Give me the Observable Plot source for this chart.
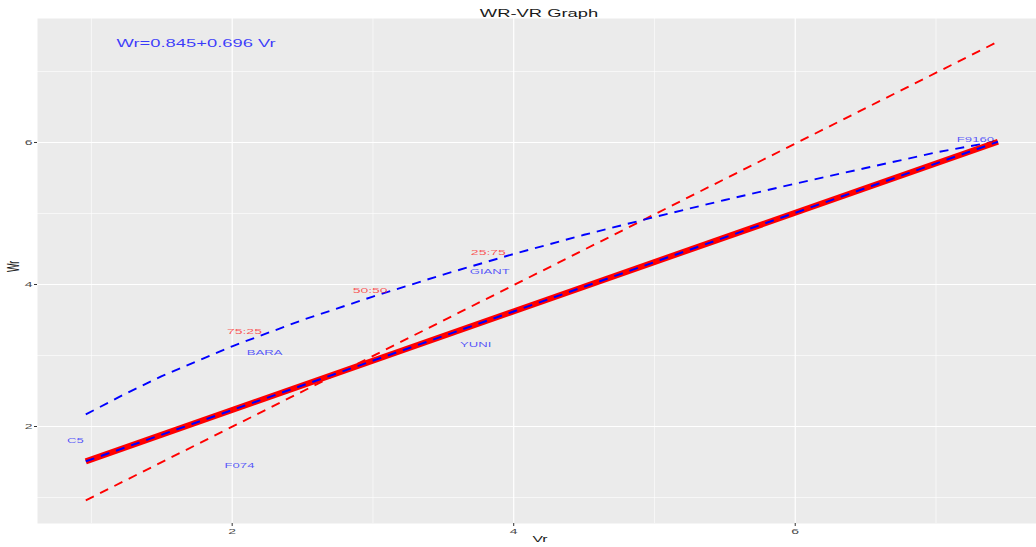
<!DOCTYPE html>
<html>
<head>
<meta charset="utf-8">
<script src="https://cdn.jsdelivr.net/npm/d3@7"></script>
<script src="https://cdn.jsdelivr.net/npm/@observablehq/plot@0.6"></script>
<style>
  html, body { margin: 0; padding: 0; background: #ffffff; }
  #chart svg { display: block; }
</style>
</head>
<body>
<div id="chart"></div>
<script>
// ---- data ----
const xTicks = [2, 4, 6];
const xMinor = [1, 3, 5, 7];
const yTicks = [2, 4, 6];
const yMinor = [1, 3, 5, 7];

// regression line Wr = a + b Vr (end points)
const regVr = [0.96, 7.44];
const regWr = [1.51, 6.01];

// unit slope line
const unitVr = [0.96, 7.44];
const unitWr = [0.96, 7.42];

// limiting parabola
const parVr = [0.96, 1.25, 1.5, 2.0, 2.5, 3.0, 3.5, 4.0, 4.5, 5.0, 5.5, 6.0, 6.5, 7.0, 7.44];
const parWr = [2.17, 2.47, 2.71, 3.13, 3.50, 3.83, 4.14, 4.43, 4.70, 4.95, 5.19, 5.42, 5.64, 5.86, 6.02];

// parent labels
const parentNames = ["C5", "F074", "BARA", "YUNI", "GIANT", "F9160"];
const parentVr = [0.887, 2.052, 2.23, 3.73, 3.83, 7.28];
const parentWr = [1.80, 1.45, 3.04, 3.15, 4.18, 6.04];

// ratio labels
const ratioNames = ["75:25", "50:50", "25:75"];
const ratioVr = [2.087, 2.98, 3.82];
const ratioWr = [3.34, 3.92, 4.45];

const titleText = "WR-VR Graph";
const equationText = "Wr=0.845+0.696 Vr";
const equationVr = [1.178];
const equationWr = [7.39];

const xDomain = [0.617, 7.714];
const yDomain = [0.634, 7.746];

// ---- build tables ----
const reg = regVr.map((v, i) => ({vr: v, wr: regWr[i]}));
const unit = unitVr.map((v, i) => ({vr: v, wr: unitWr[i]}));
const par = parVr.map((v, i) => ({vr: v, wr: parWr[i]}));
const parents = parentNames.map((n, i) => ({name: n, vr: parentVr[i], wr: parentWr[i]}));
const ratios = ratioNames.map((n, i) => ({name: n, vr: ratioVr[i], wr: ratioWr[i]}));
const eq = [{name: equationText, vr: equationVr[0], wr: equationWr[0]}];

const FONT = "'Liberation Sans', Arial, Helvetica, sans-serif";
const S = 1.75; // horizontal glyph stretch seen in the reference
const fmt = d3.format("d");

const chart = Plot.plot({
  width: 1036,
  height: 547,
  marginLeft: 37,
  marginRight: 0,
  marginTop: 18,
  marginBottom: 24,
  style: {fontFamily: FONT, background: "#ffffff", overflow: "visible"},
  x: {domain: xDomain, label: null},
  y: {domain: yDomain, label: null},
  marks: [
    Plot.frame({fill: "#EBEBEB", stroke: null}),
    Plot.ruleX(xMinor, {stroke: "white", strokeWidth: 0.6}),
    Plot.ruleY(yMinor, {stroke: "white", strokeWidth: 0.6}),
    Plot.ruleX(xTicks, {stroke: "white", strokeWidth: 1.2}),
    Plot.ruleY(yTicks, {stroke: "white", strokeWidth: 1.2}),
    Plot.axisX(xTicks, {tickSize: 3, tickPadding: 2, fontSize: 8, stroke: "#333333", color: "#4d4d4d", label: null, tickFormat: fmt}),
    Plot.axisY(yTicks, {tickSize: 3, tickPadding: 2, fontSize: 8, stroke: "#333333", color: "#4d4d4d", label: null, tickFormat: fmt}),
    Plot.line(unit, {x: "vr", y: "wr", stroke: "red", strokeWidth: 1.9, strokeDasharray: "9,7", strokeLinecap: "butt"}),
    Plot.line(par, {x: "vr", y: "wr", stroke: "blue", strokeWidth: 1.9, strokeDasharray: "9,7", strokeLinecap: "butt", curve: "linear"}),
    Plot.line(reg, {x: "vr", y: "wr", stroke: "red", strokeWidth: 6, strokeLinecap: "butt"}),
    Plot.line(reg, {x: "vr", y: "wr", stroke: "blue", strokeWidth: 2, strokeDasharray: "9,7", strokeLinecap: "butt"}),
    Plot.text(parents, {x: "vr", y: "wr", text: "name", fill: "blue", fillOpacity: 0.65, fontSize: 7.5}),
    Plot.text(ratios, {x: "vr", y: "wr", text: "name", fill: "red", fillOpacity: 0.65, fontSize: 8}),
    Plot.text(eq, {x: "vr", y: "wr", text: "name", fill: "blue", fillOpacity: 0.75, fontSize: 10.5, textAnchor: "start"}),
    Plot.text([titleText], {frameAnchor: "top", dy: -9, dx: 2, fill: "#1a1a1a", fontSize: 10.5}),
    Plot.text(["Vr"], {frameAnchor: "bottom", dy: 18, dx: 3, fill: "#1a1a1a", fontSize: 9}),
    Plot.text(["Wr"], {frameAnchor: "left", dx: -24, dy: 1, rotate: -90, fill: "#1a1a1a", fontSize: 9})
  ]
});

document.getElementById("chart").appendChild(chart);

// stretch glyphs horizontally around each text anchor (as in the reference)
chart.querySelectorAll("text").forEach(t => {
  const tr = t.getAttribute("transform") || "";
  const m = tr.match(/^\s*translate\(([^)]*)\)(.*)$/);
  if (m) {
    t.setAttribute("transform", `translate(${m[1]}) scale(${S},1)${m[2]}`);
  } else if (t.hasAttribute("x") || t.hasAttribute("y")) {
    const x = t.getAttribute("x") || 0, y = t.getAttribute("y") || 0;
    t.removeAttribute("x"); t.removeAttribute("y");
    t.setAttribute("transform", `translate(${x},${y}) scale(${S},1) ${tr}`);
  } else {
    t.setAttribute("transform", `scale(${S},1) ${tr}`);
  }
});
</script>
</body>
</html>
